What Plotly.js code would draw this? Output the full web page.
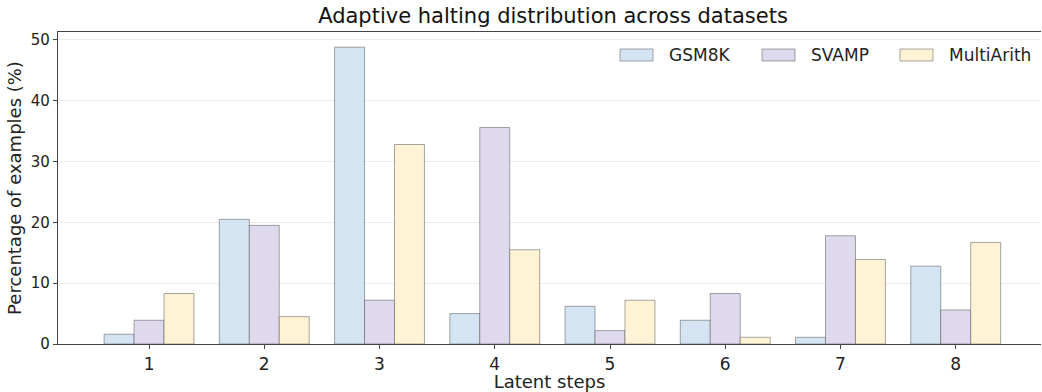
<!DOCTYPE html>
<html>
<head>
<meta charset="utf-8">
<script src="https://cdn.plot.ly/plotly-3.0.1.min.js"></script>
<style>html,body{margin:0;padding:0;background:#fff;}#chart{width:1042px;height:392px;}</style>
</head>
<body>
<div id="chart"></div>
<script>
const steps = [1, 2, 3, 4, 5, 6, 7, 8];
const gsm8k = [1.6, 20.5, 48.8, 5.0, 6.2, 3.9, 1.1, 12.8];
const svamp = [3.9, 19.5, 7.2, 35.6, 2.2, 8.3, 17.8, 5.6];
const multiArith = [8.3, 4.5, 32.8, 15.5, 7.2, 1.1, 13.9, 16.7];
const seriesNames = ["GSM8K", "SVAMP", "MultiArith"];
const colors = ["#d5e4f3", "#dfd9ed", "#fef3d5"];
const edgeColor = "rgba(80,80,80,0.5)";

const W = 1042, H = 392;
const M = {l: 58, r: 1, t: 32, b: 48};
const pw = W - M.l - M.r, ph = H - M.t - M.b;
const px2x = px => (px - M.l) / pw;
const px2y = py => (H - M.b - py) / ph;

const font = "DejaVu Sans, sans-serif";
const traces = [gsm8k, svamp, multiArith].map((vals, i) => ({
  type: "bar",
  name: seriesNames[i],
  x: steps,
  y: vals,
  marker: {color: colors[i], line: {color: edgeColor, width: 1}},
  hoverinfo: "skip",
  showlegend: false
}));

// custom legend (wide patches like the reference)
const legendPatchX = [620, 762, 900];
const shapes = [], annotations = [];
seriesNames.forEach((name, i) => {
  const x0 = legendPatchX[i];
  shapes.push({type: "rect", xref: "paper", yref: "paper",
    x0: px2x(x0), x1: px2x(x0 + 33), y0: px2y(61), y1: px2y(49),
    fillcolor: colors[i], line: {color: edgeColor, width: 1}});
  annotations.push({xref: "paper", yref: "paper", x: px2x(x0 + 47), y: px2y(55),
    xanchor: "left", yanchor: "middle", showarrow: false, text: name,
    font: {family: font, size: 17, color: "#222"}});
});

const layout = {
  width: W, height: H,
  margin: M,
  paper_bgcolor: "#fff", plot_bgcolor: "#fff",
  barmode: "group", bargap: 0.22, bargroupgap: 0,
  font: {family: font, color: "#222"},
  title: {text: "Adaptive halting distribution across datasets", font: {family: font, size: 21, color: "#111"},
    x: px2x(553), xref: "paper", xanchor: "center", y: 1 - 16 / H, yref: "container", yanchor: "middle"},
  xaxis: {
    range: [0.21, 8.74], tickvals: steps, ticktext: steps.map(String),
    showgrid: false, zeroline: false,
    showline: true, linecolor: "#444", linewidth: 1.2, mirror: true,
    ticks: "outside", ticklen: 4, tickcolor: "#444",
    tickfont: {family: font, size: 17, color: "#222"},
    title: {text: "Latent steps", font: {family: font, size: 18, color: "#222"}, standoff: 5},
    automargin: false
  },
  yaxis: {
    range: [0, 51.3], tickvals: [0, 10, 20, 30, 40, 50],
    showgrid: true, gridcolor: "#ececec", gridwidth: 1, zeroline: false,
    showline: true, linecolor: "#444", linewidth: 1.2, mirror: false,
    ticks: "outside", ticklen: 4, tickcolor: "#444",
    tickfont: {family: font, size: 15, color: "#222"},
    title: {text: "Percentage of examples (%)", font: {family: font, size: 18, color: "#222"}, standoff: 4},
    automargin: false
  },
  shapes: shapes,
  annotations: annotations,
  showlegend: false
};

Plotly.newPlot("chart", traces, layout, {displayModeBar: false, staticPlot: true});
</script>
</body>
</html>
